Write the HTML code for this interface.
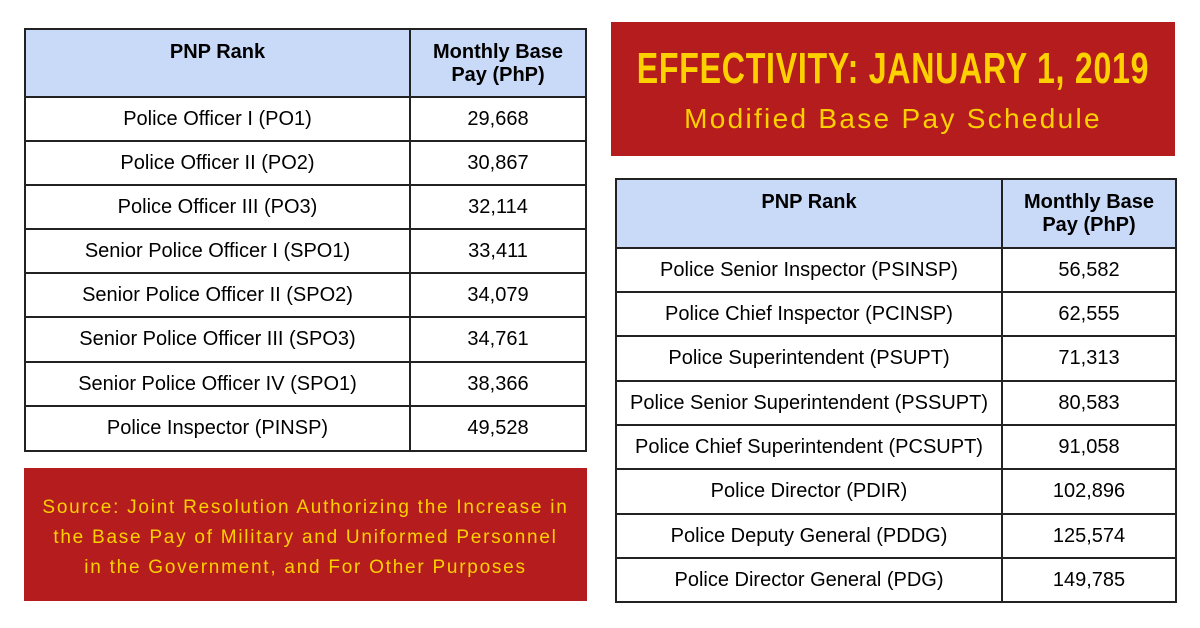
<!DOCTYPE html>
<html><head><style>
body{margin:0;width:1200px;height:628px;background:#fff;position:relative;font-family:"Liberation Sans",sans-serif;overflow:hidden}
table{position:absolute;border-collapse:collapse;color:#000}
td{border:2px solid #222;text-align:center;font-size:20px;padding:0;white-space:nowrap}
th{border:2px solid #222;background:#c9daf8;font-size:20px;font-weight:bold;vertical-align:top;padding-top:11px;line-height:23px}
.box{position:absolute;background:#b51c1e;color:#fdd000;text-align:center}
</style></head><body>
<table style="left:24px;top:28px;width:563px">
<tr style="height:68px"><th style="width:381px">PNP Rank</th><th>Monthly Base<br>Pay (PhP)</th></tr>
<tr style="height:44px"><td>Police Officer I (PO1)</td><td>29,668</td></tr>
<tr style="height:44px"><td>Police Officer II (PO2)</td><td>30,867</td></tr>
<tr style="height:44px"><td>Police Officer III (PO3)</td><td>32,114</td></tr>
<tr style="height:44px"><td>Senior Police Officer I (SPO1)</td><td>33,411</td></tr>
<tr style="height:44px"><td>Senior Police Officer II (SPO2)</td><td>34,079</td></tr>
<tr style="height:45px"><td>Senior Police Officer III (SPO3)</td><td>34,761</td></tr>
<tr style="height:44px"><td>Senior Police Officer IV (SPO1)</td><td>38,366</td></tr>
<tr style="height:45px"><td>Police Inspector (PINSP)</td><td>49,528</td></tr>
</table>
<table style="left:615px;top:178px;width:562px">
<tr style="height:69px"><th style="width:382px">PNP Rank</th><th>Monthly Base<br>Pay (PhP)</th></tr>
<tr style="height:44px"><td>Police Senior Inspector (PSINSP)</td><td>56,582</td></tr>
<tr style="height:44px"><td>Police Chief Inspector (PCINSP)</td><td>62,555</td></tr>
<tr style="height:45px"><td>Police Superintendent (PSUPT)</td><td>71,313</td></tr>
<tr style="height:44px"><td>Police Senior Superintendent (PSSUPT)</td><td>80,583</td></tr>
<tr style="height:44px"><td>Police Chief Superintendent (PCSUPT)</td><td>91,058</td></tr>
<tr style="height:45px"><td>Police Director (PDIR)</td><td>102,896</td></tr>
<tr style="height:44px"><td>Police Deputy General (PDDG)</td><td>125,574</td></tr>
<tr style="height:44px"><td>Police Director General (PDG)</td><td>149,785</td></tr>
</table>
<div class="box" style="left:611px;top:22px;width:564px;height:134px">
<div style="position:absolute;left:50%;top:24px;font-size:44px;font-weight:bold;line-height:46px;letter-spacing:1px;white-space:nowrap;font-family:'Liberation Sans Narrow','Liberation Sans',sans-serif;transform:translateX(-50%) scaleX(0.73);transform-origin:center">EFFECTIVITY: JANUARY 1, 2019</div>
<div style="position:absolute;left:0;right:0;top:80px;font-size:28px;line-height:34px;letter-spacing:2.3px;white-space:nowrap">Modified Base Pay Schedule</div>
</div>
<div class="box" style="left:24px;top:468px;width:563px;height:133px;font-size:19px;line-height:30px;letter-spacing:1.75px;white-space:nowrap">
<div style="padding-top:25px">Source: Joint Resolution Authorizing the Increase in<br>the Base Pay of Military and Uniformed Personnel<br>in the Government, and For Other Purposes</div>
</div>
</body></html>
